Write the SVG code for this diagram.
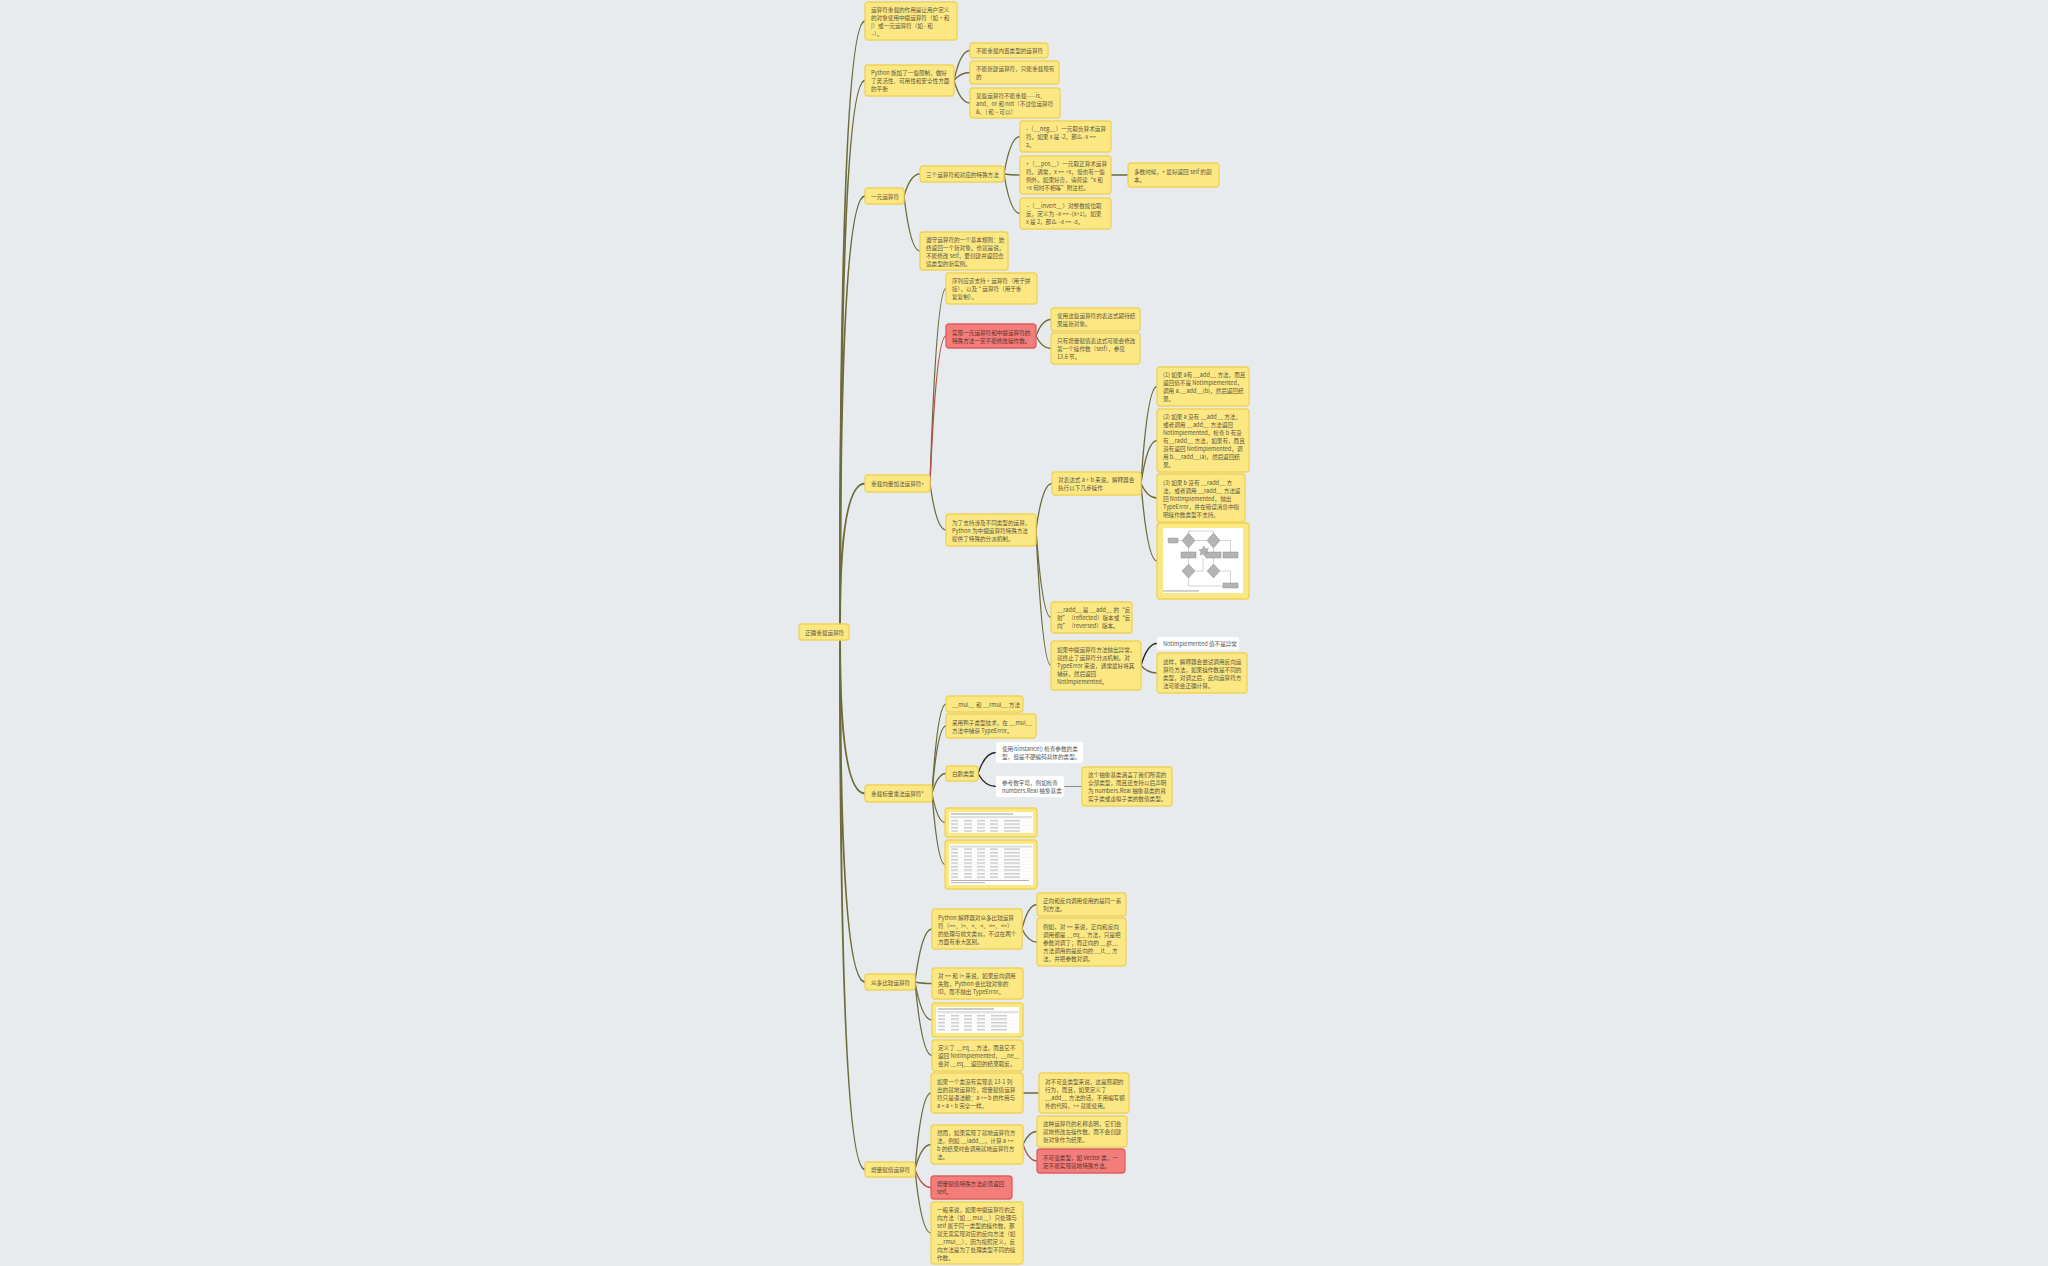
<svg xmlns="http://www.w3.org/2000/svg" width="2048" height="1266" viewBox="0 0 2048 1266">
<style>
  .node rect.box { fill: #fce883; stroke: #efd25a; stroke-width: 1.3; }
  .red rect.box { fill: #f27d7b; stroke: #df5e5c; }
  .white rect.box { fill: #ffffff; stroke: #f4f4f4; stroke-width: 0.6; }
  .node text { font-family: "Noto Sans CJK SC", "Noto Sans", sans-serif; font-size: 5.6px; fill: #5b5541; dominant-baseline: central; }
  .red text { fill: #5e2f2c; }
  .white text { fill: #555555; }
  .links path { fill: none; stroke: #6e6b3b; stroke-width: 1.3; stroke-linecap: round; }
  .links path.trunk { stroke-width: 2; }
  .links path.hot { stroke: #b5504c; }
  .links path.dark { stroke: #222222; }
  .links path.plain { stroke: #8a8a8a; stroke-width: 1; }
  .pic { fill: #ffffff; }
  .fc { fill: #b4b4b4; stroke: #7d7d7d; stroke-width: 0.4; }
  .fcl { fill: none; stroke: #8d8d8d; stroke-width: 0.4; }
</style>
<defs>
  <pattern id="cells" patternUnits="userSpaceOnUse" x="0" y="0" width="82" height="3.5">
    <rect x="2" y="1.2" width="7" height="0.9" fill="#a9a9a9"/>
    <rect x="15" y="1.2" width="8" height="0.9" fill="#a9a9a9"/>
    <rect x="28" y="1.2" width="8" height="0.9" fill="#a9a9a9"/>
    <rect x="41" y="1.2" width="8" height="0.9" fill="#a9a9a9"/>
    <rect x="55" y="1.2" width="16" height="0.9" fill="#a9a9a9"/>
    <rect x="0" y="3.2" width="82" height="0.3" fill="#e2e2e2"/>
  </pattern>
</defs>
<rect width="2048" height="1266" fill="#e7ebee"/>

<!-- connectors -->
<g id="connectors" class="links">
  <path class="trunk" d="M840,624 Q840,21 865,21"/>
  <path class="trunk" d="M840,624 Q840,80.5 865,80.5"/>
  <path class="trunk" d="M840,624 Q840,196 865,196"/>
  <path class="trunk" d="M840,624 Q840,483.5 865,483.5"/>
  <path class="trunk" d="M840,640 Q840,793.5 865,793.5"/>
  <path class="trunk" d="M840,640 Q840,982 865,982"/>
  <path class="trunk" d="M840,640 Q840,1169.5 865,1169.5"/>

  <path d="M954,80.5 Q960.4,50.5 970,50.5"/>
  <path d="M954,80.5 Q960.4,72.5 970,72.5"/>
  <path d="M954,80.5 Q960.4,103 970,103"/>

  <path d="M904,196 Q910.4,174 920,174"/>
  <path d="M904,196 Q910.4,251 920,251"/>
  <path d="M1004,174 Q1010.4,136.5 1020,136.5"/>
  <path d="M1004,174 Q1010.4,175 1020,175"/>
  <path d="M1004,174 Q1010.4,213.5 1020,213.5"/>
  <path d="M1111,175 L1128,175"/>

  <path d="M930,483.5 Q936.4,288.5 946,288.5"/>
  <path class="hot" d="M930,483.5 Q936.4,336 946,336"/>
  <path d="M930,483.5 Q936.4,530 946,530"/>
  <path d="M1036,336 Q1042,319.5 1051,319.5"/>
  <path d="M1036,336 Q1042,348.5 1051,348.5"/>
  <path d="M1036,530 Q1042.4,483.5 1052,483.5"/>
  <path d="M1036,530 Q1042.4,617.5 1051,617.5"/>
  <path d="M1036,530 Q1042.4,665.5 1051,665.5"/>
  <path d="M1141,483.5 Q1147.4,386.5 1157,386.5"/>
  <path d="M1141,483.5 Q1147.4,440.5 1157,440.5"/>
  <path d="M1141,483.5 Q1147.4,498 1157,498"/>
  <path d="M1141,483.5 Q1147.4,561 1157,561"/>
  <path class="dark" d="M1141,665.5 Q1147.4,643.5 1157,643.5"/>
  <path d="M1141,665.5 Q1147.4,673 1157,673"/>

  <path d="M932,793.5 Q937.6,704 946,704"/>
  <path d="M932,793.5 Q937.6,726 946,726"/>
  <path d="M932,793.5 Q937.6,773.5 946,773.5"/>
  <path d="M932,793.5 Q937.6,822.5 945,822.5"/>
  <path d="M932,793.5 Q937.6,864.5 945,864.5"/>
  <path class="dark" d="M978,773.5 Q985,752.5 996,752.5"/>
  <path class="dark" d="M978,773.5 Q985,786.5 996,786.5"/>
  <path class="plain" d="M1064,786.5 L1082,786.5"/>

  <path d="M915,982 Q921.8,929 932,929"/>
  <path d="M915,982 Q921.8,983.5 932,983.5"/>
  <path d="M915,982 Q921.8,1020 932,1020"/>
  <path d="M915,982 Q921.8,1055.5 932,1055.5"/>
  <path d="M1022,929 Q1028,904.5 1037,904.5"/>
  <path d="M1022,929 Q1028,942 1037,942"/>

  <path d="M915,1169.5 Q921.4,1093 931,1093"/>
  <path d="M915,1169.5 Q921.4,1144.5 931,1144.5"/>
  <path class="hot" d="M915,1169.5 Q921.4,1187.5 931,1187.5"/>
  <path d="M915,1169.5 Q921.4,1233 931,1233"/>
  <path d="M1023,1093 L1039,1093"/>
  <path d="M1023,1144.5 Q1028.6,1131.5 1037,1131.5"/>
  <path class="hot" d="M1023,1144.5 Q1028.6,1161 1037,1161"/>
</g>

<!-- root -->
<g id="root" class="node">
  <rect class="box" x="799" y="624" width="50" height="16" rx="3"/>
  <text><tspan x="805" y="632.6">正确重载运算符</tspan></text>
</g>

<!-- branch: purpose & limits -->
<g id="purpose" class="node">
  <rect class="box" x="865" y="2" width="92" height="38" rx="3"/>
  <text><tspan x="871" y="9.6">运算符重载的作用是让用户定义</tspan><tspan x="871" y="17.6">的对象使用中缀运算符（如 + 和</tspan><tspan x="871" y="25.6">|）或一元运算符（如 - 和</tspan><tspan x="871" y="33.6">~）。</tspan></text>
</g>
<g id="limits" class="node">
  <rect class="box" x="865" y="65" width="89" height="31" rx="3"/>
  <text><tspan x="871" y="73.1">Python 施加了一些限制，做好</tspan><tspan x="871" y="81.1">了灵活性、可用性和安全性方面</tspan><tspan x="871" y="89.1">的平衡</tspan></text>
</g>
<g id="limit-builtin" class="node">
  <rect class="box" x="970" y="43" width="78" height="15" rx="3"/>
  <text><tspan x="976" y="51.1">不能重载内置类型的运算符</tspan></text>
</g>
<g id="limit-new" class="node">
  <rect class="box" x="970" y="61" width="89" height="23" rx="3"/>
  <text><tspan x="976" y="69.1">不能新建运算符，只能重载现有</tspan><tspan x="976" y="77.1">的</tspan></text>
</g>
<g id="limit-keywords" class="node">
  <rect class="box" x="970" y="88" width="90" height="30" rx="3"/>
  <text><tspan x="976" y="95.6">某些运算符不能重载——is、</tspan><tspan x="976" y="103.6">and、or 和 not（不过位运算符</tspan><tspan x="976" y="111.6">&amp;、| 和 ~ 可以）</tspan></text>
</g>

<!-- branch: unary operators -->
<g id="unary" class="node">
  <rect class="box" x="865" y="188" width="39" height="16" rx="3"/>
  <text><tspan x="871" y="196.6">一元运算符</tspan></text>
</g>
<g id="unary-methods" class="node">
  <rect class="box" x="920" y="166" width="84" height="16" rx="3"/>
  <text><tspan x="926" y="174.6">三个运算符和对应的特殊方法</tspan></text>
</g>
<g id="neg" class="node">
  <rect class="box" x="1020" y="121" width="91" height="31" rx="3"/>
  <text><tspan x="1026" y="129.1">-（__neg__）一元取负算术运算</tspan><tspan x="1026" y="137.1">符。如果 x 是 -2，那么 -x ==</tspan><tspan x="1026" y="145.1">2。</tspan></text>
</g>
<g id="pos" class="node">
  <rect class="box" x="1020" y="156" width="91" height="38" rx="3"/>
  <text><tspan x="1026" y="163.6">+（__pos__）一元取正算术运算</tspan><tspan x="1026" y="171.6">符。通常，x == +x，但也有一些</tspan><tspan x="1026" y="179.6">例外。如果好奇，请阅读“x 和</tspan><tspan x="1026" y="187.6">+x 何时不相等”附注栏。</tspan></text>
</g>
<g id="pos-copy" class="node">
  <rect class="box" x="1128" y="163" width="91" height="24" rx="3"/>
  <text><tspan x="1134" y="171.6">多数时候，+ 最好返回 self 的副</tspan><tspan x="1134" y="179.6">本。</tspan></text>
</g>
<g id="invert" class="node">
  <rect class="box" x="1020" y="198" width="91" height="31" rx="3"/>
  <text><tspan x="1026" y="206.1">~（__invert__）对整数按位取</tspan><tspan x="1026" y="214.1">反，定义为 ~x == -(x+1)。如果</tspan><tspan x="1026" y="222.1">x 是 2，那么 ~x == -3。</tspan></text>
</g>
<g id="unary-rule" class="node">
  <rect class="box" x="920" y="232" width="88" height="38" rx="3"/>
  <text><tspan x="926" y="239.6">遵守运算符的一个基本规则：始</tspan><tspan x="926" y="247.6">终返回一个新对象。也就是说，</tspan><tspan x="926" y="255.6">不能修改 self，要创建并返回合</tspan><tspan x="926" y="263.6">适类型的新实例。</tspan></text>
</g>

<!-- branch: vector addition -->
<g id="add" class="node">
  <rect class="box" x="865" y="475" width="65" height="17" rx="3"/>
  <text><tspan x="871" y="484.1">重载向量加法运算符+</tspan></text>
</g>
<g id="add-seq" class="node">
  <rect class="box" x="946" y="273" width="91" height="31" rx="3"/>
  <text><tspan x="952" y="281.1">序列应该支持 + 运算符（用于拼</tspan><tspan x="952" y="289.1">接），以及 * 运算符（用于重</tspan><tspan x="952" y="297.1">复复制）。</tspan></text>
</g>
<g id="add-nomutate" class="node red">
  <rect class="box" x="946" y="324" width="90" height="24" rx="3"/>
  <text><tspan x="952" y="332.6">实现一元运算符和中缀运算符的</tspan><tspan x="952" y="340.6">特殊方法一定不能修改操作数。</tspan></text>
</g>
<g id="add-newobj" class="node">
  <rect class="box" x="1051" y="308" width="89" height="23" rx="3"/>
  <text><tspan x="1057" y="316.1">使用这些运算符的表达式期待结</tspan><tspan x="1057" y="324.1">果是新对象。</tspan></text>
</g>
<g id="add-inplace" class="node">
  <rect class="box" x="1051" y="333" width="89" height="31" rx="3"/>
  <text><tspan x="1057" y="341.1">只有增量赋值表达式可能会修改</tspan><tspan x="1057" y="349.1">第一个操作数（self），参见</tspan><tspan x="1057" y="357.1">13.6 节。</tspan></text>
</g>
<g id="add-dispatch" class="node">
  <rect class="box" x="946" y="514" width="90" height="32" rx="3"/>
  <text><tspan x="952" y="522.6">为了支持涉及不同类型的运算，</tspan><tspan x="952" y="530.6">Python 为中缀运算符特殊方法</tspan><tspan x="952" y="538.6">提供了特殊的分派机制。</tspan></text>
</g>
<g id="dispatch-steps" class="node">
  <rect class="box" x="1052" y="472" width="89" height="23" rx="3"/>
  <text><tspan x="1058" y="480.1">对表达式 a + b 来说，解释器会</tspan><tspan x="1058" y="488.1">执行以下几步操作</tspan></text>
</g>
<g id="step-1" class="node">
  <rect class="box" x="1157" y="367" width="92" height="39" rx="3"/>
  <text><tspan x="1163" y="375.1">(1) 如果 a有 __add__ 方法，而且</tspan><tspan x="1163" y="383.1">返回值不是 NotImplemented，</tspan><tspan x="1163" y="391.1">调用 a.__add__(b)，然后返回结</tspan><tspan x="1163" y="399.1">果。</tspan></text>
</g>
<g id="step-2" class="node">
  <rect class="box" x="1157" y="409" width="92" height="63" rx="3"/>
  <text><tspan x="1163" y="417.1">(2) 如果 a 没有 __add__ 方法，</tspan><tspan x="1163" y="425.1">或者调用 __add__ 方法返回</tspan><tspan x="1163" y="433.1">NotImplemented，检查 b 有没</tspan><tspan x="1163" y="441.1">有__radd__ 方法，如果有，而且</tspan><tspan x="1163" y="449.1">没有返回 NotImplemented，调</tspan><tspan x="1163" y="457.1">用 b.__radd__(a)，然后返回结</tspan><tspan x="1163" y="465.1">果。</tspan></text>
</g>
<g id="step-3" class="node">
  <rect class="box" x="1157" y="474" width="88" height="48" rx="3"/>
  <text><tspan x="1163" y="482.6">(3) 如果 b 没有 __radd__ 方</tspan><tspan x="1163" y="490.6">法，或者调用 __radd__ 方法返</tspan><tspan x="1163" y="498.6">回 NotImplemented，抛出</tspan><tspan x="1163" y="506.6">TypeError，并在错误消息中指</tspan><tspan x="1163" y="514.6">明操作数类型不支持。</tspan></text>
</g>
<g id="dispatch-chart" class="node">
  <rect class="box" x="1157" y="523" width="92" height="76" rx="3"/>
  <g transform="translate(1163,528)">
    <rect class="pic" x="0" y="0" width="80" height="65"/>
    <path class="fcl" d="M15,12.5 H19 M32,12.5 H44 M50.5,20 V24 M25.5,20 V24 M25.5,30 V36 M50.5,30 V36 M57,12.5 H67.5 V24 M25.5,50 V58 H60 M57,43 H67.5 V55 M32,43 H40 V30 M50.5,5 V3 H25.5 V5"/>
    <rect class="fc" x="5" y="10" width="10" height="5" rx="1" fill="#eeeeee"/>
    <path class="fc" d="M25.5,5 L32,12.5 L25.5,20 L19,12.5 Z"/>
    <path class="fc" d="M50.5,5 L57,12.5 L50.5,20 L44,12.5 Z"/>
    <path class="fc" d="M41,18 L42.5,21 L45.5,20.5 L44,23 L46,25.5 L43,25.5 L42,28.5 L40,26 L37,27 L38,24 L36,21.5 L39,21.5 Z" fill="#8a8a8a"/>
    <rect class="fc" x="18" y="24" width="15" height="6"/>
    <rect class="fc" x="43" y="24" width="15" height="6"/>
    <rect class="fc" x="60" y="24" width="15" height="6"/>
    <path class="fc" d="M25.5,36 L32,43 L25.5,50 L19,43 Z"/>
    <path class="fc" d="M50.5,36 L57,43 L50.5,50 L44,43 Z"/>
    <rect class="fc" x="60" y="55" width="15" height="5"/>
    <rect x="0" y="62.5" width="36" height="0.9" fill="#9a9a9a"/>
  </g>
</g>
<g id="radd" class="node">
  <rect class="box" x="1051" y="602" width="81" height="31" rx="3"/>
  <text><tspan x="1057" y="610.1">__radd__ 是 __add__ 的“反</tspan><tspan x="1057" y="618.1">射”（reflected）版本或“反</tspan><tspan x="1057" y="626.1">向”（reversed）版本。</tspan></text>
</g>
<g id="catch-typeerror" class="node">
  <rect class="box" x="1051" y="641" width="90" height="49" rx="3"/>
  <text><tspan x="1057" y="650.1">如果中缀运算符方法抛出异常，</tspan><tspan x="1057" y="658.1">就终止了运算符分派机制。对</tspan><tspan x="1057" y="666.1">TypeError 来说，通常最好将其</tspan><tspan x="1057" y="674.1">捕获，然后返回</tspan><tspan x="1057" y="682.1">NotImplemented。</tspan></text>
</g>
<g id="not-exception" class="node white">
  <rect class="box" x="1157" y="637" width="82" height="13" rx="2"/>
  <text><tspan x="1163" y="644.1">NotImplemented 值不是异常</tspan></text>
</g>
<g id="try-reverse" class="node">
  <rect class="box" x="1157" y="653" width="90" height="40" rx="3"/>
  <text><tspan x="1163" y="661.6">这样，解释器会尝试调用反向运</tspan><tspan x="1163" y="669.6">算符方法，如果操作数是不同的</tspan><tspan x="1163" y="677.6">类型，对调之后，反向运算符方</tspan><tspan x="1163" y="685.6">法可能会正确计算。</tspan></text>
</g>

<!-- branch: scalar multiplication -->
<g id="mul" class="node">
  <rect class="box" x="865" y="785" width="67" height="17" rx="3"/>
  <text><tspan x="871" y="794.1">重载标量乘法运算符*</tspan></text>
</g>
<g id="mul-methods" class="node">
  <rect class="box" x="946" y="696" width="77" height="16" rx="3"/>
  <text><tspan x="952" y="704.6">__mul__ 和 __rmul__ 方法</tspan></text>
</g>
<g id="mul-duck" class="node">
  <rect class="box" x="946" y="714" width="90" height="24" rx="3"/>
  <text><tspan x="952" y="722.6">采用鸭子类型技术，在 __mul__</tspan><tspan x="952" y="730.6">方法中捕获 TypeError。</tspan></text>
</g>
<g id="mul-goose" class="node">
  <rect class="box" x="946" y="766" width="32" height="15" rx="3"/>
  <text><tspan x="952" y="774.1">白鹅类型</tspan></text>
</g>
<g id="goose-isinstance" class="node white">
  <rect class="box" x="996" y="742" width="87" height="21" rx="2"/>
  <text><tspan x="1002" y="749.1">使用isinstance() 检查参数的类</tspan><tspan x="1002" y="757.1">型，但是不硬编码具体的类型。</tspan></text>
</g>
<g id="goose-tower" class="node white">
  <rect class="box" x="996" y="776" width="68" height="21" rx="2"/>
  <text><tspan x="1002" y="783.1">参考数字塔，例如检查</tspan><tspan x="1002" y="791.1">numbers.Real 抽象基类</tspan></text>
</g>
<g id="tower-abc" class="node">
  <rect class="box" x="1082" y="767" width="90" height="39" rx="3"/>
  <text><tspan x="1088" y="775.1">这个抽象基类涵盖了我们所需的</tspan><tspan x="1088" y="783.1">全部类型，而且还支持以后声明</tspan><tspan x="1088" y="791.1">为 numbers.Real 抽象基类的真</tspan><tspan x="1088" y="799.1">实子类或虚拟子类的数值类型。</tspan></text>
</g>
<g id="mul-table-a" class="node">
  <rect class="box" x="945" y="808" width="92" height="29" rx="3"/>
  <g transform="translate(949,812)">
    <rect class="pic" x="0" y="0" width="84" height="21"/>
    <rect x="2" y="1.5" width="62" height="1" fill="#9a9a9a"/>
    <rect x="1" y="4" width="82" height="2.2" fill="#e0e0e0"/>
    <rect x="1" y="6.5" width="82" height="14" fill="url(#cells)"/>
  </g>
</g>
<g id="mul-table-b" class="node">
  <rect class="box" x="945" y="840" width="92" height="49" rx="3"/>
  <g transform="translate(949,844)">
    <rect class="pic" x="0" y="0" width="84" height="41"/>
    <rect x="1" y="1.5" width="82" height="2.2" fill="#e0e0e0"/>
    <rect x="1" y="4" width="82" height="31.5" fill="url(#cells)"/>
    <rect x="2" y="36" width="78" height="0.9" fill="#a9a9a9"/>
    <rect x="2" y="38.3" width="34" height="0.9" fill="#a9a9a9"/>
  </g>
</g>

<!-- branch: rich comparison -->
<g id="compare" class="node">
  <rect class="box" x="865" y="974" width="50" height="16" rx="3"/>
  <text><tspan x="871" y="982.6">众多比较运算符</tspan></text>
</g>
<g id="compare-rules" class="node">
  <rect class="box" x="932" y="909" width="90" height="40" rx="3"/>
  <text><tspan x="938" y="917.6">Python 解释器对众多比较运算</tspan><tspan x="938" y="925.6">符（==、!=、&gt;、&lt;、&gt;=、&lt;=）</tspan><tspan x="938" y="933.6">的处理与前文类似，不过在两个</tspan><tspan x="938" y="941.6">方面有重大区别。</tspan></text>
</g>
<g id="compare-same" class="node">
  <rect class="box" x="1037" y="893" width="89" height="23" rx="3"/>
  <text><tspan x="1043" y="901.1">正向和反向调用使用的是同一系</tspan><tspan x="1043" y="909.1">列方法。</tspan></text>
</g>
<g id="compare-example" class="node">
  <rect class="box" x="1037" y="918" width="89" height="48" rx="3"/>
  <text><tspan x="1043" y="926.6">例如，对 == 来说，正向和反向</tspan><tspan x="1043" y="934.6">调用都是 __eq__ 方法，只是把</tspan><tspan x="1043" y="942.6">参数对调了；而正向的 __gt__</tspan><tspan x="1043" y="950.6">方法调用的是反向的 __lt__ 方</tspan><tspan x="1043" y="958.6">法，并把参数对调。</tspan></text>
</g>
<g id="compare-id" class="node">
  <rect class="box" x="932" y="968" width="91" height="31" rx="3"/>
  <text><tspan x="938" y="976.1">对 == 和 != 来说，如果反向调用</tspan><tspan x="938" y="984.1">失败，Python 会比较对象的</tspan><tspan x="938" y="992.1">ID，而不抛出 TypeError。</tspan></text>
</g>
<g id="compare-table" class="node">
  <rect class="box" x="932" y="1003" width="91" height="34" rx="3"/>
  <g transform="translate(936,1007)">
    <rect class="pic" x="0" y="0" width="83" height="26"/>
    <rect x="2" y="1.5" width="56" height="1" fill="#9a9a9a"/>
    <rect x="1" y="4" width="81" height="2.2" fill="#e0e0e0"/>
    <rect x="1" y="6.5" width="81" height="18" fill="url(#cells)"/>
  </g>
</g>
<g id="compare-ne" class="node">
  <rect class="box" x="932" y="1040" width="91" height="31" rx="3"/>
  <text><tspan x="938" y="1048.1">定义了 __eq__ 方法，而且它不</tspan><tspan x="938" y="1056.1">返回 NotImplemented，__ne__</tspan><tspan x="938" y="1064.1">会对 __eq__ 返回的结果取反。</tspan></text>
</g>

<!-- branch: augmented assignment -->
<g id="augmented" class="node">
  <rect class="box" x="865" y="1162" width="50" height="15" rx="3"/>
  <text><tspan x="871" y="1170.1">增量赋值运算符</tspan></text>
</g>
<g id="aug-sugar" class="node">
  <rect class="box" x="931" y="1073" width="92" height="40" rx="3"/>
  <text><tspan x="937" y="1081.6">如果一个类没有实现表 13-1 列</tspan><tspan x="937" y="1089.6">出的就地运算符，增量赋值运算</tspan><tspan x="937" y="1097.6">符只是语法糖：a += b 的作用与</tspan><tspan x="937" y="1105.6">a = a + b 完全一样。</tspan></text>
</g>
<g id="aug-immutable" class="node">
  <rect class="box" x="1039" y="1073" width="90" height="40" rx="3"/>
  <text><tspan x="1045" y="1081.6">对不可变类型来说，这是预期的</tspan><tspan x="1045" y="1089.6">行为，而且，如果定义了</tspan><tspan x="1045" y="1097.6">__add__ 方法的话，不用编写额</tspan><tspan x="1045" y="1105.6">外的代码，+= 就能使用。</tspan></text>
</g>
<g id="aug-iadd" class="node">
  <rect class="box" x="931" y="1125" width="92" height="39" rx="3"/>
  <text><tspan x="937" y="1133.1">然而，如果实现了就地运算符方</tspan><tspan x="937" y="1141.1">法，例如 __iadd__，计算 a +=</tspan><tspan x="937" y="1149.1">b 的结果时会调用就地运算符方</tspan><tspan x="937" y="1157.1">法。</tspan></text>
</g>
<g id="aug-inplace" class="node">
  <rect class="box" x="1037" y="1116" width="90" height="31" rx="3"/>
  <text><tspan x="1043" y="1124.1">这种运算符的名称表明，它们会</tspan><tspan x="1043" y="1132.1">就地修改左操作数，而不会创建</tspan><tspan x="1043" y="1140.1">新对象作为结果。</tspan></text>
</g>
<g id="aug-vector" class="node red">
  <rect class="box" x="1037" y="1149" width="88" height="24" rx="3"/>
  <text><tspan x="1043" y="1157.6">不可变类型，如 Vector 类，一</tspan><tspan x="1043" y="1165.6">定不能实现就地特殊方法。</tspan></text>
</g>
<g id="aug-self" class="node red">
  <rect class="box" x="931" y="1176" width="81" height="23" rx="3"/>
  <text><tspan x="937" y="1184.1">增量赋值特殊方法必须返回</tspan><tspan x="937" y="1192.1">self。</tspan></text>
</g>
<g id="aug-reverse" class="node">
  <rect class="box" x="931" y="1202" width="92" height="62" rx="3"/>
  <text><tspan x="937" y="1209.6">一般来说，如果中缀运算符的正</tspan><tspan x="937" y="1217.6">向方法（如 __mul__）只处理与</tspan><tspan x="937" y="1225.6">self 属于同一类型的操作数，那</tspan><tspan x="937" y="1233.6">就无需实现对应的反向方法（如</tspan><tspan x="937" y="1241.6">__rmul__），因为按照定义，反</tspan><tspan x="937" y="1249.6">向方法是为了处理类型不同的操</tspan><tspan x="937" y="1257.6">作数。</tspan></text>
</g>
</svg>
